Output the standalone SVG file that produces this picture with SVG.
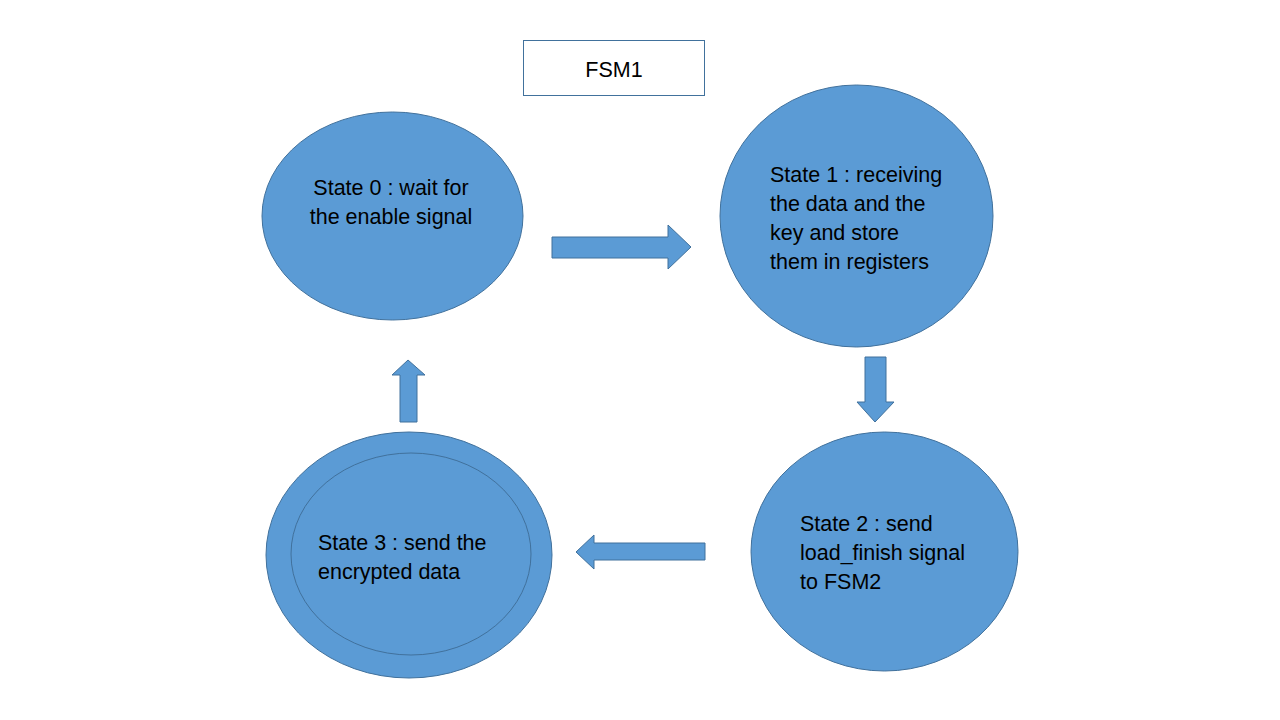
<svg xmlns="http://www.w3.org/2000/svg" width="1280" height="720" viewBox="0 0 1280 720">
<style>
.st{fill:#5B9BD5;stroke:#41719C;stroke-width:1}
.ar{fill:#5B9BD5;stroke:#41719C;stroke-width:1}
.t{font-family:"Liberation Sans",Arial,sans-serif;font-size:21.5px;fill:#000}
</style>
<rect width="1280" height="720" fill="#fff"/>
<g id="title">
<rect x="523.5" y="40.5" width="181" height="55" fill="#fff" stroke="#41719C"/>
<text class="t" x="614" y="77" text-anchor="middle" font-size="22">FSM1</text>
</g>
<g id="state0">
<ellipse class="st" cx="392.5" cy="216" rx="130.5" ry="104"/>
<text class="t" x="391" y="195" text-anchor="middle">State 0 : wait for</text>
<text class="t" x="391" y="224" text-anchor="middle">the enable signal</text>
</g>
<g id="state1">
<ellipse class="st" cx="856.5" cy="216" rx="136.5" ry="131"/>
<text class="t" x="770" y="182">State 1 : receiving</text>
<text class="t" x="770" y="211">the data and the</text>
<text class="t" x="770" y="240">key and store</text>
<text class="t" x="770" y="269">them in registers</text>
</g>
<g id="state2">
<ellipse class="st" cx="884.5" cy="551.5" rx="133.5" ry="119.5"/>
<text class="t" x="800" y="531">State 2 : send</text>
<text class="t" x="800" y="560">load_finish signal</text>
<text class="t" x="800" y="589">to FSM2</text>
</g>
<g id="state3">
<ellipse class="st" cx="409" cy="555" rx="143" ry="123"/>
<ellipse class="st" cx="411" cy="554" rx="120" ry="101"/>
<text class="t" x="318" y="550">State 3 : send the</text>
<text class="t" x="318" y="579">encrypted data</text>
</g>
<g id="connectors">
<polygon class="ar" points="552,237 668,237 668,225 691,247 668,269 668,258 552,258"/>
<polygon class="ar" points="865,357 886,357 886,402 894,402 875,422 857,402 865,402"/>
<polygon class="ar" points="400,422 417,422 417,375 425,375 408,360 392,375 400,375"/>
<polygon class="ar" points="705,543 594,543 594,535 576,552 594,569 594,560 705,560"/>
</g>
</svg>
